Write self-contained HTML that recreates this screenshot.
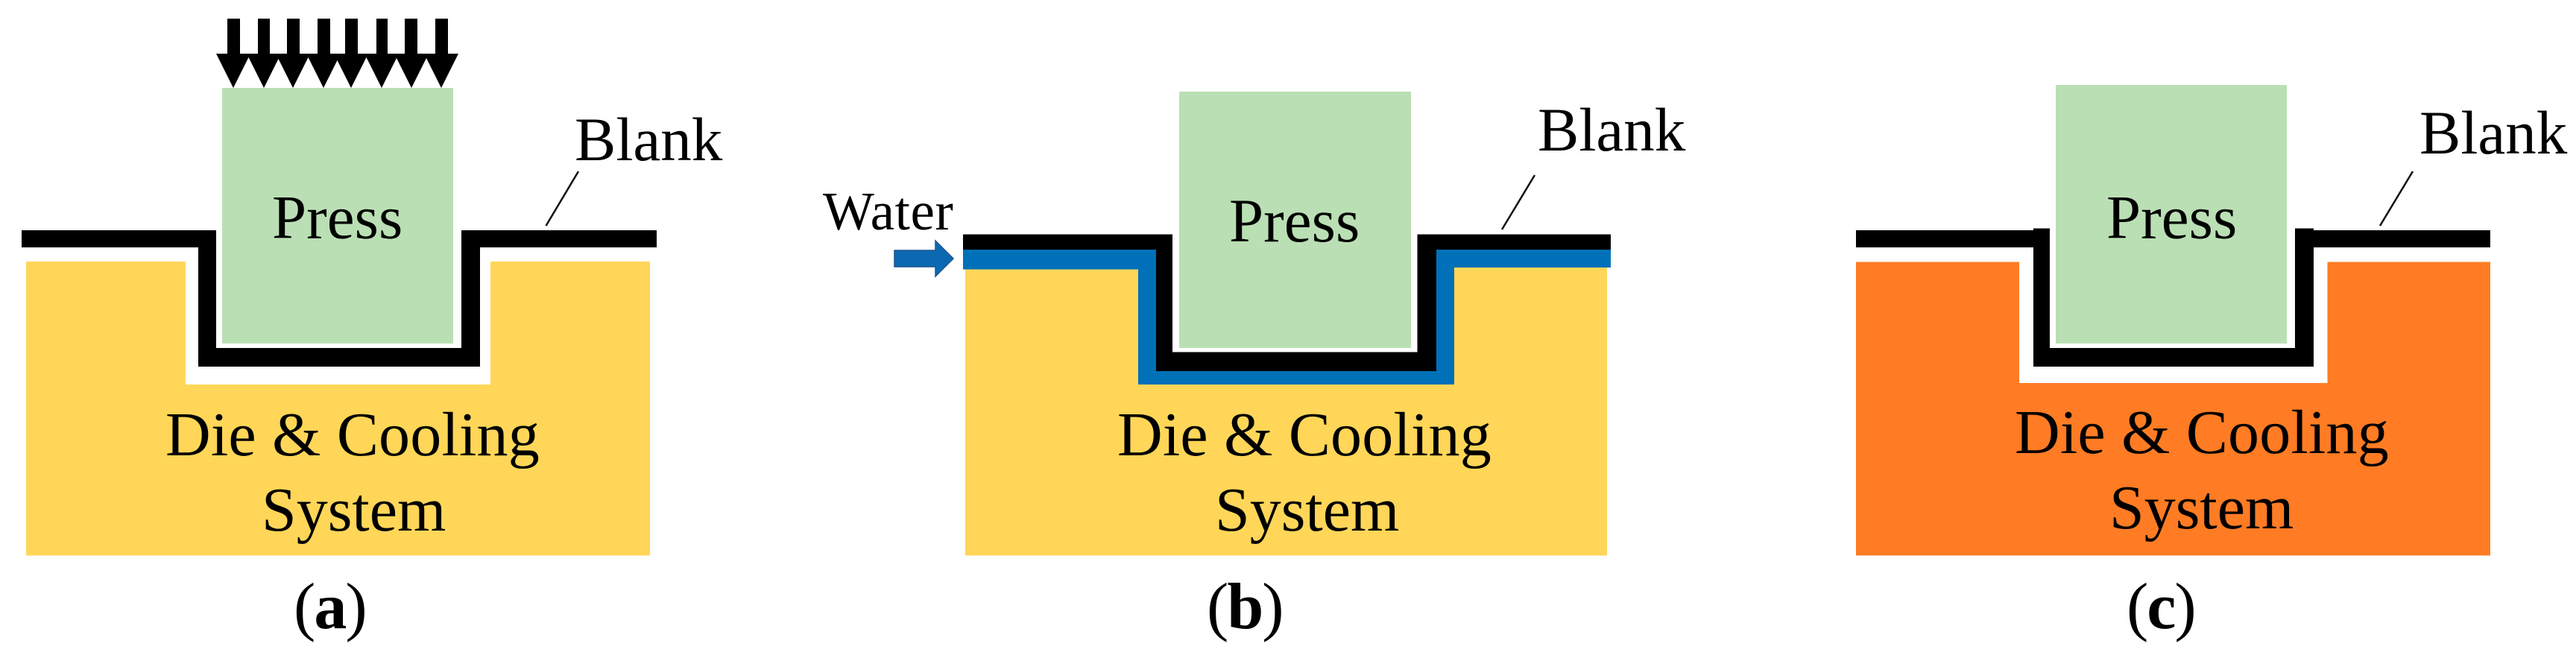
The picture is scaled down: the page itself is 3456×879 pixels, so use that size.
<!DOCTYPE html>
<html><head><meta charset="utf-8"><style>
html,body{margin:0;padding:0;background:#fff;width:3456px;height:879px;overflow:hidden}
svg{display:block}
text{font-family:"Liberation Serif",serif;fill:#000}
</style></head><body>
<svg xmlns="http://www.w3.org/2000/svg" width="3456" height="879" viewBox="0 0 3456 879">
<rect width="3456" height="879" fill="#fff"/>
<!-- panel a -->
<polygon fill="#ffd658" points="35,351 249,351 249,516 658,516 658,351 872,351 872,745.5 35,745.5"/>
<rect x="298" y="118" width="310" height="343" fill="#badfb4"/>
<polygon fill="#000" points="29,309 290,309 290,467 619,467 619,309 881,309 881,332 644,332 644,492 266,492 266,332 29,332"/>
<g fill="#000">
<path d="M305,25h17v47h14l-23,46l-23,-46h15z"/>
<path d="M346,25h16v47h15l-23,46l-23,-46h15z"/>
<path d="M385,25h17v47h14l-23,46l-23,-46h15z"/>
<path d="M426,25h17v47h14l-23,46l-23,-46h15z"/>
<path d="M463,25h17v47h14l-23,46l-23,-46h15z"/>
<path d="M505,25h15v47h15l-23,46l-23,-46h16z"/>
<path d="M543,25h17v47h15l-23,46l-23,-46h14z"/>
<path d="M584,25h17v47h14l-23,46l-23,-46h15z"/>
</g>
<line x1="776" y1="230" x2="732.5" y2="303" stroke="#111" stroke-width="2.5"/>
<text x="365" y="319.5" font-size="83">Press</text>
<text x="222" y="611" font-size="84" letter-spacing="0.2">Die &amp; Cooling</text>
<text x="351" y="712" font-size="84">System</text>
<text x="771" y="215" font-size="83">Blank</text>
<text x="394" y="843" font-size="88" letter-spacing="-2">(<tspan font-weight="bold">a</tspan>)</text>
<!-- panel b -->
<rect x="1295" y="355" width="861" height="390.5" fill="#ffd658"/>
<polygon fill="#0070b8" points="1292,330 2161,330 2161,359 1951,359 1951,516 1527,516 1527,361.5 1292,361.5"/>
<rect x="1573" y="300" width="328.5" height="172.5" fill="#fff"/>
<rect x="1582" y="123" width="311" height="344" fill="#badfb4"/>
<polygon fill="#000" points="1292,314.5 1573,314.5 1573,472.5 1901.5,472.5 1901.5,314.5 2161,314.5 2161,335 1927,335 1927,498 1551,498 1551,335 1292,335"/>
<polygon fill="#0b69b2" stroke="#1f5590" stroke-width="1.5" points="1200,336 1255,336 1255,323 1279,347 1255,371 1255,358 1200,358"/>
<line x1="2059" y1="235" x2="2015" y2="308" stroke="#111" stroke-width="2.5"/>
<text x="1104" y="308" font-size="73" letter-spacing="0.6">Water</text>
<text x="1649" y="324" font-size="83">Press</text>
<text x="1499" y="611" font-size="84" letter-spacing="0.2">Die &amp; Cooling</text>
<text x="1630" y="712" font-size="84">System</text>
<text x="2063" y="202" font-size="83">Blank</text>
<text x="1619" y="843" font-size="88" letter-spacing="-2">(<tspan font-weight="bold">b</tspan>)</text>
<!-- panel c -->
<polygon fill="#ff7c24" points="2490,351.5 2709,351.5 2709,514 3122.5,514 3122.5,351.5 3341,351.5 3341,745.5 2490,745.5"/>
<rect x="2758" y="114" width="310" height="347" fill="#badfb4"/>
<polygon fill="#000" points="2490,309 2728,309 2728,306.5 2750,306.5 2750,467 3079,467 3079,306.5 3104,306.5 3104,309 3341,309 3341,332 3104,332 3104,492 2728,492 2728,332 2490,332"/>
<line x1="3237" y1="230" x2="3193" y2="303" stroke="#111" stroke-width="2.5"/>
<text x="2826" y="319.5" font-size="83">Press</text>
<text x="2703" y="608" font-size="84" letter-spacing="0.2">Die &amp; Cooling</text>
<text x="2830" y="709" font-size="84">System</text>
<text x="3246" y="206" font-size="83">Blank</text>
<text x="2853" y="843" font-size="88" letter-spacing="-2">(<tspan font-weight="bold">c</tspan>)</text>
</svg>
</body></html>
